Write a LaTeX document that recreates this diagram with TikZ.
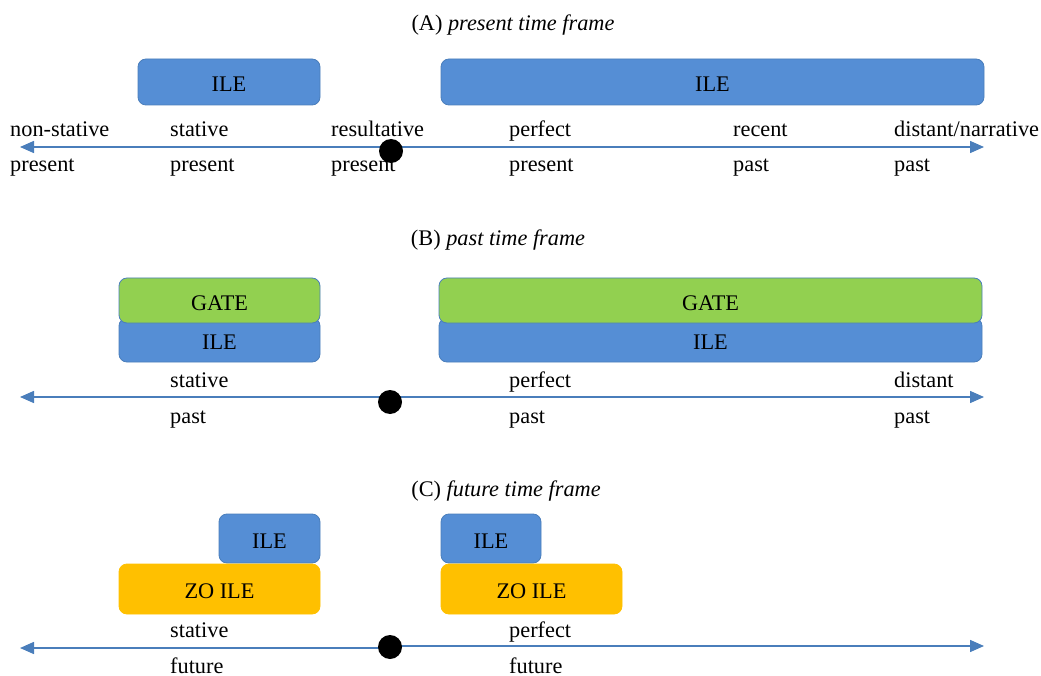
\documentclass[tikz,border=0pt]{standalone}
\usepackage{fontspec}
\setmainfont{Liberation Serif}
\usetikzlibrary{arrows.meta,backgrounds}
\definecolor{ileblue}{HTML}{558ED5}
\definecolor{edgeblue}{HTML}{4A7EBB}
\definecolor{gategreen}{HTML}{92D050}
\definecolor{zoyellow}{HTML}{FFC000}
\newcommand{\dfont}{\fontsize{22.3}{26}\selectfont}
\tikzset{
  box/.style={rounded corners=8pt, inner sep=0pt, font=\dfont, text height=19pt, text depth=0pt},
  ilebox/.style={box, fill=ileblue, draw=edgeblue, line width=0.8pt},
  gatebox/.style={box, fill=gategreen, draw=edgeblue, line width=0.8pt},
  zobox/.style={box, fill=zoyellow, draw=zoyellow, line width=0.8pt},
  lbl/.style={anchor=base west, inner sep=0pt, font=\dfont},
  ttl/.style={anchor=base, inner sep=0pt, font=\dfont},
  dotnode/.style={circle, fill=black, minimum size=24pt, inner sep=0pt},
  axis/.style={draw=edgeblue, line width=1.5pt, -{Triangle[length=14pt,width=12pt]}},
}
\begin{document}
\begin{tikzpicture}[x=1pt,y=-1pt]
\useasboundingbox (0,0) rectangle (1041,676);
% ---------- (A) ----------
\node[ttl] (tA) at (513,31) {(A) \textit{present time frame}};
\node[ilebox, minimum width=182pt, minimum height=46pt] (A1) at (229,82) {ILE};
\node[ilebox, minimum width=543pt, minimum height=46pt] (A2) at (712.5,82) {ILE};
\node[dotnode] (dA) at (391,151) {};
\coordinate (laA) at (20,147);
\coordinate (raA) at (984,147);
\begin{scope}[on background layer]
\draw[axis] (dA |- laA) -- (laA);
\draw[axis] (dA |- raA) -- (raA);
\end{scope}
\node[lbl] (a1) at (10,137) {non-stative};
\node[lbl] (a2) at (170,137) {stative};
\node[lbl] (a3) at (331,137) {resultative};
\node[lbl] (a4) at (509,137) {perfect};
\node[lbl] (a5) at (733,137) {recent};
\node[lbl] (a6) at (894,137) {distant/narrative};
\node[lbl] (b1) at (10,172) {present};
\node[lbl] (b2) at (170,172) {present};
\node[lbl] (b3) at (331,172) {present};
\node[lbl] (b4) at (509,172) {present};
\node[lbl] (b5) at (733,172) {past};
\node[lbl] (b6) at (894,172) {past};
% ---------- (B) ----------
\node[ttl] (tB) at (498,246) {(B) \textit{past time frame}};
\node[ilebox, minimum width=201pt, minimum height=44pt] (B1i) at (219.5,340) {ILE};
\node[gatebox, minimum width=201pt, minimum height=45pt] (B1g) at (219.5,300.5) {GATE};
\node[ilebox, minimum width=543pt, minimum height=44pt] (B2i) at (710.5,340) {ILE};
\node[gatebox, minimum width=543pt, minimum height=45pt] (B2g) at (710.5,300.5) {GATE};
\node[dotnode] (dB) at (390,402) {};
\coordinate (laB) at (20,397);
\coordinate (raB) at (984,397);
\begin{scope}[on background layer]
\draw[axis] (dB |- laB) -- (laB);
\draw[axis] (dB |- raB) -- (raB);
\end{scope}
\node[lbl] (c1) at (170,387) {stative};
\node[lbl] (c2) at (509,387) {perfect};
\node[lbl] (c3) at (894,387) {distant};
\node[lbl] (d1) at (170,423) {past};
\node[lbl] (d2) at (509,423) {past};
\node[lbl] (d3) at (894,423) {past};
% ---------- (C) ----------
\node[ttl] (tC) at (506,496) {(C) \textit{future time frame}};
\node[ilebox, minimum width=101pt, minimum height=49pt] (C1i) at (269.5,538.5) {ILE};
\node[zobox, minimum width=201pt, minimum height=50pt] (C1z) at (219.5,589) {ZO ILE};
\node[ilebox, minimum width=100pt, minimum height=49pt] (C2i) at (491,538.5) {ILE};
\node[zobox, minimum width=181pt, minimum height=50pt] (C2z) at (531.5,589) {ZO ILE};
\node[dotnode] (dC) at (390,647) {};
\coordinate (laC) at (20,648);
\coordinate (raC) at (984,646);
\begin{scope}[on background layer]
\draw[axis] (dC |- laC) -- (laC);
\draw[axis] (dC |- raC) -- (raC);
\end{scope}
\node[lbl] (e1) at (170,637) {stative};
\node[lbl] (e2) at (509,637) {perfect};
\node[lbl] (f1) at (170,673) {future};
\node[lbl] (f2) at (509,673) {future};
\end{tikzpicture}
\end{document}
